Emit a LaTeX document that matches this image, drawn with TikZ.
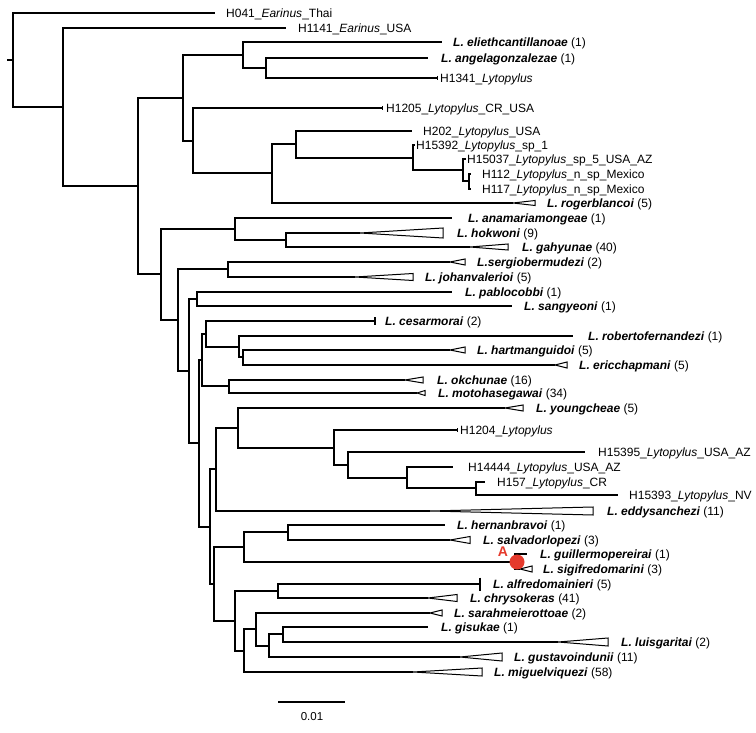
\documentclass[tikz,border=0pt]{standalone}
\usepackage{fontspec}
\setmainfont{Liberation Sans}
\definecolor{mkred}{HTML}{E53A2C}
\tikzset{
  br/.style={line width=1.5pt, black},
  tri/.style={line width=1pt, black, fill=white, line join=miter},
  lab/.style={anchor=west, inner sep=0pt, text height=8.6pt, text depth=0pt, font=\fontsize{12}{14}\selectfont},
}
\newcommand\spn[1]{\textbf{\textit{#1}}}
% leaf with plain branch end: name, y, tip x, label x, text
\newcommand\lf[5]{\coordinate (#1) at (#3,#2); \node[lab] (#1t) at (#4,#2) {#5};}
% collapsed clade: name, y, apex x, end x, half height, label x, text
\newcommand\tr[7]{\coordinate (#1) at (#3,#2);
  \draw[tri] (#1) -- ++(#4-#3,-#5) -- ++(0,2*#5) -- cycle;
  \node[lab] (#1t) at (#6,#2) {#7};}
\begin{document}
\begin{tikzpicture}[x=1pt,y=-1pt]
\useasboundingbox (0,0) rectangle (756,733);
% leaves
\lf{L1}{13}{215}{226}{H041\_\textit{Earinus}\_Thai}
\lf{L2}{28}{286}{298}{H1141\_\textit{Earinus}\_USA}
\lf{L3}{42}{442}{453}{\spn{L. eliethcantillanoae} (1)}
\lf{L4}{58}{428}{441}{\spn{L. angelagonzalezae} (1)}
\lf{L5}{78}{437}{440}{H1341\_\textit{Lytopylus}}
\lf{L6}{108}{382}{386}{H1205\_\textit{Lytopylus}\_CR\_USA}
\lf{L7}{131}{412}{423}{H202\_\textit{Lytopylus}\_USA}
\lf{L8}{145}{415}{416}{H15392\_\textit{Lytopylus}\_sp\_1}
\lf{L9}{159}{466}{467}{H15037\_\textit{Lytopylus}\_sp\_5\_USA\_AZ}
\lf{L10}{174}{471}{482}{H112\_\textit{Lytopylus}\_n\_sp\_Mexico}
\lf{L11}{189}{471}{482}{H117\_\textit{Lytopylus}\_n\_sp\_Mexico}
\tr{L12}{203}{513}{535}{2.5}{547}{\spn{L. rogerblancoi} (5)}
\lf{L13}{218}{452}{468}{\spn{L. anamariamongeae} (1)}
\tr{L14}{233}{360}{443}{5}{457}{\spn{L. hokwoni} (9)}
\tr{L15}{247}{470}{508}{3}{522}{\spn{L. gahyunae} (40)}
\tr{L16}{262}{450}{465}{3}{477}{\spn{L.sergiobermudezi} (2)}
\tr{L17}{277}{355}{413}{3.5}{425}{\spn{L. johanvalerioi} (5)}
\lf{L18}{292}{452}{465}{\spn{L. pablocobbi} (1)}
\lf{L19}{306}{512}{524}{\spn{L. sangyeoni} (1)}
\lf{L20}{321}{375}{385}{\spn{L. cesarmorai} (2)}
\lf{L21}{336}{573}{588}{\spn{L. robertofernandezi} (1)}
\tr{L22}{350}{450}{465}{3}{477}{\spn{L. hartmanguidoi} (5)}
\tr{L23}{365}{555}{567}{3}{579}{\spn{L. ericchapmani} (5)}
\tr{L24}{380}{405}{423}{3}{437}{\spn{L. okchunae} (16)}
\tr{L25}{393}{417}{425}{2.5}{438}{\spn{L. motohasegawai} (34)}
\tr{L26}{408}{505}{523}{3}{536}{\spn{L. youngcheae} (5)}
\lf{L27}{430}{457}{460}{H1204\_\textit{Lytopylus}}
\lf{L28}{452}{585}{598}{H15395\_\textit{Lytopylus}\_USA\_AZ}
\lf{L29}{467}{453}{468}{H14444\_\textit{Lytopylus}\_USA\_AZ}
\lf{L30}{482}{485}{497}{H157\_\textit{Lytopylus}\_CR}
\lf{L31}{495}{618}{629}{H15393\_\textit{Lytopylus}\_NV}
\tr{L32}{511}{430}{593}{4}{607}{\spn{L. eddysanchezi} (11)}
\lf{L33}{525}{445}{457}{\spn{L. hernanbravoi} (1)}
\tr{L34}{540}{450}{470}{3.5}{483}{\spn{L. salvadorlopezi} (3)}
\lf{L35}{554}{527}{540}{\spn{L. guillermopereirai} (1)}
\tr{L36}{569}{520}{532}{3}{543}{\spn{L. sigifredomarini} (3)}
\lf{L37}{584}{480}{493}{\spn{L. alfredomainieri} (5)}
\tr{L38}{598}{428}{457}{3.5}{470}{\spn{L. chrysokeras} (41)}
\tr{L39}{613}{430}{442}{3}{454}{\spn{L. sarahmeierottoae} (2)}
\lf{L40}{627}{428}{441}{\spn{L. gisukae} (1)}
\tr{L41}{642}{558}{608}{4}{621}{\spn{L. luisgaritai} (2)}
\tr{L42}{657}{460}{502}{4}{514}{\spn{L. gustavoindunii} (11)}
\tr{L43}{672}{413}{482}{4}{494}{\spn{L. miguelviquezi} (58)}
% internal nodes
\coordinate (r0) at (7,60);
\coordinate (r) at (13,60);
\coordinate (na) at (469,181);
\coordinate (nb) at (463,170);
\coordinate (nc) at (413,158);
\coordinate (nd) at (296,144);
\coordinate (ne) at (272,173);
\coordinate (nf) at (193,141);
\coordinate (ng) at (266,68);
\coordinate (nh) at (243,55);
\coordinate (ni) at (183,98);
\coordinate (nj) at (286,240);
\coordinate (nk) at (235,229);
\coordinate (nl) at (228,269);
\coordinate (nm) at (197,299);
\coordinate (nn) at (243,357);
\coordinate (no) at (239,347);
\coordinate (np) at (206,334);
\coordinate (nq) at (229,386);
\coordinate (ns) at (202,360);
\coordinate (nt) at (476,488);
\coordinate (nu) at (407,478);
\coordinate (nv) at (348,465);
\coordinate (nw) at (334,448);
\coordinate (nx) at (238,428);
\coordinate (ny) at (216,469);
\coordinate (z1) at (288,532);
\coordinate (z2) at (515,562);
\coordinate (z3) at (244,547);
\coordinate (z4) at (278,591);
\coordinate (z5) at (283,634);
\coordinate (z6) at (269,646);
\coordinate (z7) at (256,629);
\coordinate (z8) at (244,651);
\coordinate (z9) at (235,621);
\coordinate (z10) at (214,584);
\coordinate (z11) at (210,527);
\coordinate (z12) at (199,443);
\coordinate (z13) at (189,371);
\coordinate (z14) at (178,320);
\coordinate (z15) at (161,274);
\coordinate (z16) at (138,186);
\coordinate (z17) at (63,107);
% branches
\draw[br] (r0) -- (r);
\foreach \p/\c in {r/L1, r/z17, z17/L2, z17/z16, z16/ni, z16/z15,
  ni/nh, ni/nf, nh/L3, nh/ng, ng/L4, ng/L5, nf/L6, nf/ne, ne/nd, ne/L12,
  nd/L7, nd/nc, nc/L8, nc/nb, nb/L9, nb/na, na/L10, na/L11,
  z15/nk, z15/z14, nk/L13, nk/nj, nj/L14, nj/L15,
  z14/nl, z14/z13, nl/L16, nl/L17, z13/nm, z13/z12, nm/L18, nm/L19,
  z12/ns, z12/z11, ns/np, ns/nq, np/L20, np/no, no/L21, no/nn, nn/L22, nn/L23,
  nq/L24, nq/L25, z11/ny, z11/z10, ny/nx, ny/L32, nx/L26, nx/nw,
  nw/L27, nw/nv, nv/L28, nv/nu, nu/L29, nu/nt, nt/L30, nt/L31,
  z10/z3, z10/z9, z3/z1, z3/z2, z1/L33, z1/L34, z2/L35, z2/L36,
  z9/z4, z9/z8, z4/L37, z4/L38, z8/z7, z8/L43, z7/L39, z7/z6,
  z6/z5, z6/L42, z5/L40, z5/L41}
  \draw[br] (\p) |- (\c);
% end ticks and bars
\draw[br, line width=1pt] ([yshift=2pt]L5) -- ([yshift=-2pt]L5);
\draw[br, line width=1pt] ([yshift=2pt]L6) -- ([yshift=-2pt]L6);
\draw[br, line width=1pt] ([yshift=2pt]L27) -- ([yshift=-2pt]L27);
\draw[br, line width=1.2pt] ([yshift=4pt]L20) -- ([yshift=-4pt]L20);
\draw[br, line width=1.2pt] ([yshift=6.5pt]L37) -- ([yshift=-6.5pt]L37);
% marked node
\node[circle, fill=mkred, minimum size=15pt, inner sep=0pt] (dotA) at (517,562) {};
\node[text=mkred, font=\fontsize{14}{16}\selectfont\bfseries, inner sep=0pt] (markA) at (503,552) {A};
% scale bar
\coordinate (sb1) at (278,702);
\coordinate (sb2) at (345,702);
\draw[br, line width=1.2pt] (sb1) -- (sb2);
\node[font=\fontsize{11.5}{13}\selectfont, inner sep=0pt] (sbl) at (312,717) {0.01};
\end{tikzpicture}
\end{document}
